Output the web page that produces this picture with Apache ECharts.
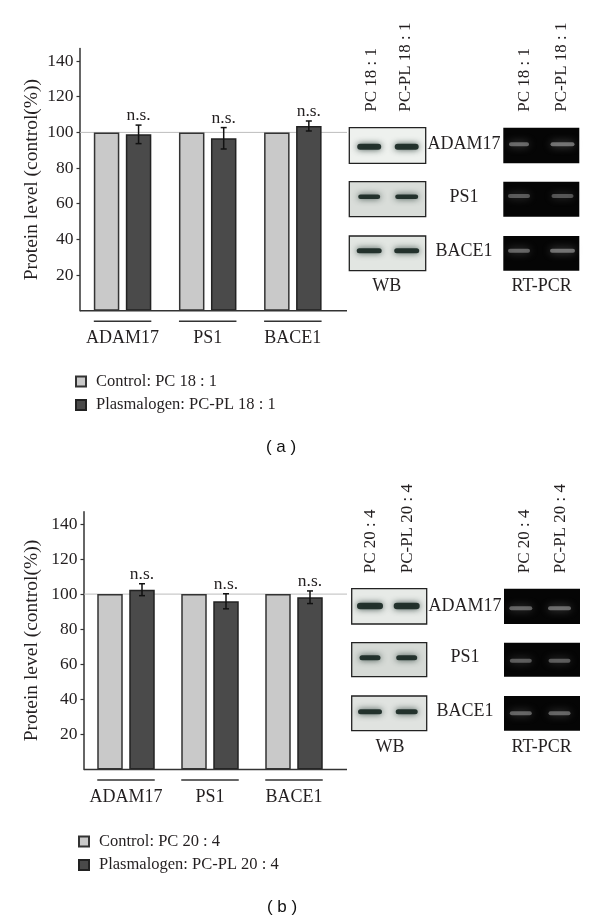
<!DOCTYPE html>
<html>
<head>
<meta charset="utf-8">
<script src="https://cdn.jsdelivr.net/npm/echarts@6/dist/echarts.min.js"></script>
<style>
html,body{margin:0;padding:0;background:#fff;}
#c{width:600px;height:921px;}
</style>
</head>
<body>
<div id="c"></div>
<script>
// ---------- data ----------
const categories = ['ADAM17', 'PS1', 'BACE1'];
const yTicks = [20, 40, 60, 80, 100, 120, 140];
const refValue = 100;

const legendA = ['Control: PC 18 : 1', 'Plasmalogen: PC-PL 18 : 1'];
const controlA = [100, 100, 100];
const plasmA = [98.9, 96.7, 103.6];
const errA = [5.2, 6.0, 2.8];
const sigA = ['n.s.', 'n.s.', 'n.s.'];

const legendB = ['Control: PC 20 : 4', 'Plasmalogen: PC-PL 20 : 4'];
const controlB = [100, 100, 100];
const plasmB = [102.5, 95.9, 98.2];
const errB = [3.4, 4.3, 3.6];
const sigB = ['n.s.', 'n.s.', 'n.s.'];

const laneA = ['PC 18 : 1', 'PC-PL 18 : 1'];
const laneB = ['PC 20 : 4', 'PC-PL 20 : 4'];
const blotRows = ['ADAM17', 'PS1', 'BACE1'];
const blotMethods = ['WB', 'RT-PCR'];
const panelLabels = ['( a )', '( b )'];
const yName = 'Protein level (control(%))';

// ---------- style ----------
const SERIF = 'Liberation Serif';
const TXT = '#231f20';
const BAR_W = 25.5;
const BAR_GAP_PX = 6.5;
const PL_OFFSET = (BAR_W + BAR_GAP_PX) / 2;
const CTRL_COLOR = '#c9c9c9';
const PL_COLOR = '#4a4a4a';

const panels = [
  { grid: { left: 80, top: 48.6, width: 255.4, height: 262.1 }, axisRight: 347, nameGap: 38,
    legendPos: { left: 70, top: 367.5 }, legend: legendA, ctrl: controlA, pl: plasmA, err: errA, sig: sigA },
  { grid: { left: 84, top: 511.7, width: 252, height: 257.7 }, axisRight: 347, nameGap: 42,
    legendPos: { left: 73, top: 827.5 }, legend: legendB, ctrl: controlB, pl: plasmB, err: errB, sig: sigB }
];

function errRender(sig) {
  return function (params, api) {
    const i = api.value(0), m = api.value(1), e = api.value(2);
    const t = api.coord([i, m + e]);
    const b = api.coord([i, m - e]);
    const x = t[0] + PL_OFFSET;
    const st = { stroke: '#111', lineWidth: 1.5 };
    return {
      type: 'group',
      children: [
        { type: 'line', shape: { x1: x, y1: t[1], x2: x, y2: b[1] }, style: st },
        { type: 'line', shape: { x1: x - 3, y1: t[1], x2: x + 3, y2: t[1] }, style: st },
        { type: 'line', shape: { x1: x - 3, y1: b[1], x2: x + 3, y2: b[1] }, style: st },
        { type: 'text', x: x, y: t[1] - 0.5, style: { text: sig[i], fontFamily: SERIF, fontSize: 17.5, fill: TXT, align: 'center', verticalAlign: 'bottom' } }
      ]
    };
  };
}

const option = {
  animation: false,
  backgroundColor: '#fff',
  grid: panels.map(p => Object.assign({ containLabel: false }, p.grid)),
  legend: panels.map((p, k) => ({
    data: p.legend, orient: 'vertical', left: p.legendPos.left, top: p.legendPos.top,
    itemWidth: 10, itemHeight: 10, itemGap: 5.6, icon: 'rect', selectedMode: false,
    textStyle: { fontFamily: SERIF, fontSize: 16.5, color: TXT, lineHeight: 18, padding: [0, 0, 0, 5] }
  })),
  xAxis: panels.map((p, k) => ({
    type: 'category', gridIndex: k, data: categories,
    axisLine: { show: false }, axisTick: { show: false },
    axisLabel: { interval: 0, fontFamily: SERIF, fontSize: 18, color: TXT, margin: 18, lineHeight: 20 }
  })),
  yAxis: panels.map((p, k) => ({
    type: 'value', gridIndex: k, min: 0, max: 147, interval: 20,
    name: yName, nameLocation: 'middle', nameGap: p.nameGap, nameRotate: 90,
    nameTextStyle: { fontFamily: SERIF, fontSize: 19.5, color: TXT },
    axisLine: { show: true, lineStyle: { color: '#333', width: 1.5 } },
    axisTick: { show: true, length: 3.5, lineStyle: { color: '#333', width: 1.2 }, customValues: yTicks },
    axisLabel: { fontFamily: SERIF, fontSize: 17.5, color: TXT, margin: 6.5, customValues: yTicks },
    splitLine: { show: false }
  })),
  series: []
};

panels.forEach((p, k) => {
  option.series.push({
    name: p.legend[0], type: 'bar', xAxisIndex: k, yAxisIndex: k, data: p.ctrl,
    barWidth: BAR_W, barGap: (BAR_GAP_PX / BAR_W * 100) + '%', z: 3,
    itemStyle: { color: CTRL_COLOR, borderColor: '#333', borderWidth: 1.5 }
  });
  option.series.push({
    name: p.legend[1], type: 'bar', xAxisIndex: k, yAxisIndex: k, data: p.pl,
    barWidth: BAR_W, barGap: (BAR_GAP_PX / BAR_W * 100) + '%', z: 3,
    itemStyle: { color: PL_COLOR, borderColor: '#222', borderWidth: 1.5 }
  });
  option.series.push({
    type: 'custom', xAxisIndex: k, yAxisIndex: k, z: 5,
    renderItem: errRender(p.sig),
    data: p.pl.map((v, i) => [i, v, p.err[i]])
  });
});

const chart = echarts.init(document.getElementById('c'), null, { renderer: 'canvas' });
chart.setOption(option);

// ---------- decorative graphics (axis line, reference line, underlines, blot images) ----------
const g = [];
panels.forEach((p, k) => {
  const y0 = chart.convertToPixel({ yAxisIndex: k }, 0);
  const y100 = chart.convertToPixel({ yAxisIndex: k }, refValue);
  const xl = p.grid.left;
  g.push({ type: 'line', z: 1, shape: { x1: xl, y1: y100, x2: p.axisRight, y2: y100 }, style: { stroke: '#bdbdbd', lineWidth: 1 } });
  g.push({ type: 'line', z: 10, shape: { x1: xl, y1: y0, x2: p.axisRight, y2: y0 }, style: { stroke: '#333', lineWidth: 1.5 } });
  categories.forEach((c, i) => {
    const cx = chart.convertToPixel({ xAxisIndex: k }, c);
    g.push({ type: 'line', z: 10, shape: { x1: cx - BAR_W - BAR_GAP_PX / 2, y1: y0 + 10.5, x2: cx + BAR_W + BAR_GAP_PX / 2, y2: y0 + 10.5 }, style: { stroke: '#333', lineWidth: 1.5 } });
  });
});

// blot layouts (image-like panels)
const blots = [
  { lanes: laneA, laneBottom: 111.7, laneX: [371.7, 405.7, 525, 561.7],
    wb: { x: 349.3, w: 76.4, rows: [[127.7, 35.6], [181.7, 35], [236, 34.7]], bg: ['#eef1ee', '#d9ddd9', '#e2e6e2'],
          lanes: [369.2, 406.7], bandY: [146.7, 196.7, 250.7], bandW: [[24, 24], [22, 23], [25, 25]], bandH: [6, 4.5, 5] },
    rt: { x: 503.3, w: 76, lanes: [519, 562.5], bandY: [144.3, 196, 250.7], bandW: [[20, 24], [22, 22], [22, 25]], bandA: [[0.5, 0.55], [0.42, 0.4], [0.48, 0.55]] },
    labelX: 464, labelY: [144.3, 197, 251.7], methodY: 286.7, methodX: [386.7, 541.7], panelLabel: [281, 447] },
  { lanes: laneB, laneBottom: 573.3, laneX: [371, 407.7, 524.3, 561],
    wb: { x: 351.7, w: 75, rows: [[588.7, 35.3], [642.7, 34], [696, 34.7]], bg: ['#e7eae7', '#d6dad6', '#e0e3e0'],
          lanes: [370, 406.7], bandY: [606, 657.7, 711.7], bandW: [[26, 26], [21, 21], [24, 22]], bandH: [6.5, 5, 5] },
    rt: { x: 504, w: 76, lanes: [520.8, 559.5], bandY: [608.3, 660.7, 713.3], bandW: [[23, 23], [22, 22], [22, 22]], bandA: [[0.48, 0.52], [0.44, 0.44], [0.48, 0.48]] },
    labelX: 465, labelY: [606, 657, 711], methodY: 747.3, methodX: [390, 541.7], panelLabel: [282, 907] }
];

blots.forEach((b, k) => {
  // lane labels
  b.lanes.concat(b.lanes).forEach((t, j) => {
    g.push({ type: 'text', x: b.laneX[j], y: b.laneBottom, rotation: Math.PI / 2,
      style: { text: t, fontFamily: SERIF, fontSize: 17, fill: TXT, align: 'left', verticalAlign: 'middle' } });
  });
  b.wb.rows.forEach((r, i) => {
    // WB box
    g.push({ type: 'rect', shape: { x: b.wb.x, y: r[0], width: b.wb.w, height: r[1] },
      style: { fill: b.wb.bg[i], stroke: '#222', lineWidth: 1.3 } });
    b.wb.lanes.forEach((lx, j) => {
      const w = b.wb.bandW[i][j], h = b.wb.bandH[i];
      g.push({ type: 'rect', shape: { x: lx - w / 2, y: b.wb.bandY[i] - h / 2, width: w, height: h, r: h / 2 },
        style: { fill: 'rgba(25,40,35,0.92)', shadowBlur: 6, shadowColor: 'rgba(30,50,45,0.9)' } });
    });
    // RT box
    g.push({ type: 'rect', shape: { x: b.rt.x, y: r[0], width: b.rt.w, height: r[1] }, style: { fill: '#050505' } });
    b.rt.lanes.forEach((lx, j) => {
      const w = b.rt.bandW[i][j], a = b.rt.bandA[i][j];
      g.push({ type: 'rect', shape: { x: lx - w / 2, y: b.rt.bandY[i] - 2, width: w, height: 4, r: 2 },
        style: { fill: 'rgba(185,185,185,' + a + ')', shadowBlur: 8, shadowColor: 'rgba(170,170,170,' + Math.min(1, a + 0.35) + ')' } });
    });
    // row label
    g.push({ type: 'text', x: b.labelX, y: b.labelY[i],
      style: { text: blotRows[i], fontFamily: SERIF, fontSize: 18, fill: TXT, align: 'center', verticalAlign: 'middle' } });
  });
  blotMethods.forEach((m, j) => {
    g.push({ type: 'text', x: b.methodX[j], y: b.methodY,
      style: { text: m, fontFamily: SERIF, fontSize: 18, fill: TXT, align: 'center', verticalAlign: 'middle' } });
  });
  g.push({ type: 'text', x: b.panelLabel[0], y: b.panelLabel[1],
    style: { text: panelLabels[k], fontFamily: 'Liberation Sans', fontSize: 17, fill: '#111', align: 'center', verticalAlign: 'middle' } });
});

chart.setOption({ graphic: { elements: g } });
</script>
</body>
</html>
